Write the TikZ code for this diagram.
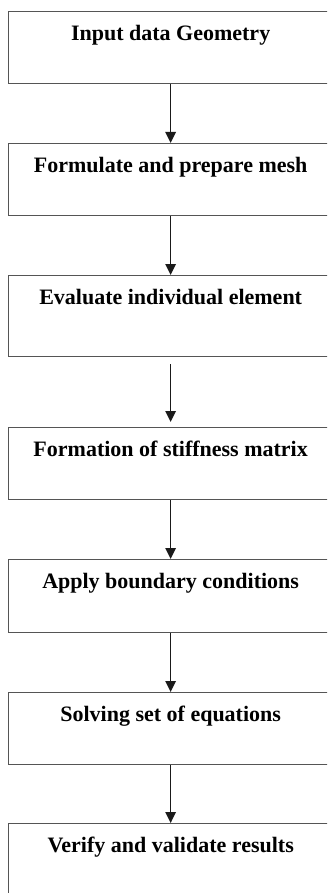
\documentclass[tikz,border=0pt]{standalone}
\usepackage{fontspec}
\setmainfont{Liberation Serif}
\usetikzlibrary{arrows.meta}
\definecolor{boxgray}{HTML}{555555}
\definecolor{arrowblack}{HTML}{1A1A1A}
\tikzset{stepbox/.style={draw=boxgray, anchor=north west, minimum width=324pt,
  inner xsep=0pt, inner ysep=0pt, text height=28.5pt,
  font=\fontsize{22}{26}\selectfont\bfseries}}

\begin{document}
\begin{tikzpicture}[x=1pt, y=1pt, line width=1.3pt, >={Triangle[length=11pt,width=10.5pt]}]
  \path[use as bounding box, clip] (0,0) rectangle (327,-893);
  \foreach \i/\y/\h/\t in {1/11/72/Input data Geometry,
                           2/143/72/Formulate and prepare mesh,
                           3/275/81/Evaluate individual element,
                           4/427/72/Formation of stiffness matrix,
                           5/559/73/Apply boundary conditions,
                           6/692/72/Solving set of equations,
                           7/823/72/Verify and validate results}{
    \node[stepbox, minimum height=\h, text depth=\h-28.5] (s\i) at (8,-\y) {\t};
  }
  \foreach \a/\b/\s/\e in {1/2/0/0,2/3/0/0,3/4/7/5,4/5/0/0,5/6/0/0,6/7/0/0}{
    \draw[arrowblack, line width=1.5pt, ->, shorten <=\s, shorten >=\e] (s\a.south) -- (s\b.north);
  }
\end{tikzpicture}
\end{document}
